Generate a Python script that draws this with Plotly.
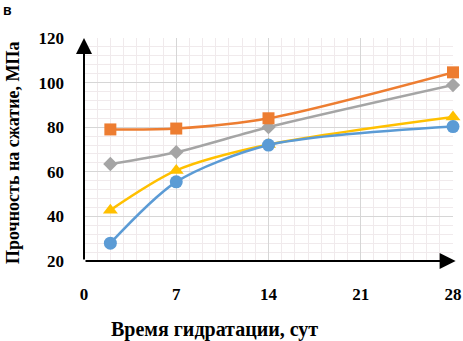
import plotly.graph_objects as go

days = [2, 7, 14, 28]
s_blue = [28, 55.5, 72, 80.3]
s_orange = [79, 79.4, 84, 104.6]
s_gray = [63.5, 68.8, 80, 98.9]
s_yellow = [42.8, 60.6, 72.2, 84.6]

x_ticks = [0, 7, 14, 21, 28]
y_ticks = [20, 40, 60, 80, 100, 120]

FONT = "Liberation Serif"
W, H = 463, 341
L, R, T, B = 84, 10, 38, 80
PW, PH = W - L - R, H - T - B

def px_x(px):
    return (px - L) / PW

def px_y(py):
    return (H - B - py) / PH

fig = go.Figure()

def add(vals, color, symbol, size):
    fig.add_trace(go.Scatter(
        x=days, y=vals, mode="lines+markers",
        line=dict(color=color, width=2.5, shape="spline", smoothing=0.8),
        marker=dict(color=color, symbol=symbol, size=size),
        cliponaxis=False, showlegend=False,
    ))

add(s_gray, "#A5A5A5", "diamond", 11)
add(s_orange, "#ED7D31", "square", 12)
add(s_yellow, "#FFC000", "triangle-up", 13)
add(s_blue, "#5B9BD5", "circle", 13)

fig.update_layout(
    width=W, height=H,
    margin=dict(l=L, r=R, t=T, b=B, autoexpand=False),
    paper_bgcolor="white", plot_bgcolor="white",
    font=dict(family=FONT, color="black"),
    xaxis=dict(
        range=[0, 28], tickvals=x_ticks, ticktext=[str(v) for v in x_ticks],
        showgrid=True, gridcolor="#d6d6d6", gridwidth=1,
        minor=dict(dtick=1, showgrid=True, gridcolor="#f0eaec", gridwidth=1),
        showline=False, zeroline=False, automargin=False,
        tickfont=dict(family=FONT, size=17, color="black", weight="bold"),
        ticks="", ticklabelstandoff=21,
    ),
    yaxis=dict(
        range=[20, 120], tickvals=y_ticks, ticktext=[str(v) for v in y_ticks],
        showgrid=True, gridcolor="#d6d6d6", gridwidth=1,
        minor=dict(dtick=4, showgrid=True, gridcolor="#f0eaec", gridwidth=1),
        showline=False, zeroline=False, automargin=False,
        tickfont=dict(family=FONT, size=17, color="black", weight="bold"),
        ticks="", ticklabelstandoff=19,
    ),
)

# axis lines with arrows
fig.add_annotation(x=0, y=120, ax=0, ay=20, xref="x", yref="y", axref="x", ayref="y",
                   text="", showarrow=True, arrowhead=2, arrowsize=1.6, arrowwidth=2,
                   arrowcolor="black")
fig.add_annotation(x=28.2, y=20, ax=0, ay=20, xref="x", yref="y", axref="x", ayref="y",
                   text="", showarrow=True, arrowhead=2, arrowsize=1.6, arrowwidth=2,
                   arrowcolor="black")

fig.add_annotation(text="Время гидратации, сут", x=px_x(214), y=px_y(329),
                   xref="paper", yref="paper", xanchor="center", yanchor="middle",
                   showarrow=False, font=dict(family=FONT, size=20, weight="bold"))
fig.add_annotation(text="Прочность на сжатие, МПа", textangle=-90,
                   x=px_x(13), y=px_y(153),
                   xref="paper", yref="paper", xanchor="center", yanchor="middle",
                   showarrow=False, font=dict(family=FONT, size=18, weight="bold"))
fig.add_annotation(text="в", x=px_x(1), y=px_y(0),
                   xref="paper", yref="paper", xanchor="left", yanchor="top",
                   showarrow=False, font=dict(family="Liberation Sans", size=14, weight="bold"))

fig.write_html("out.html", config={"displayModeBar": False},
               post_script="document.body.style.margin='0';")
